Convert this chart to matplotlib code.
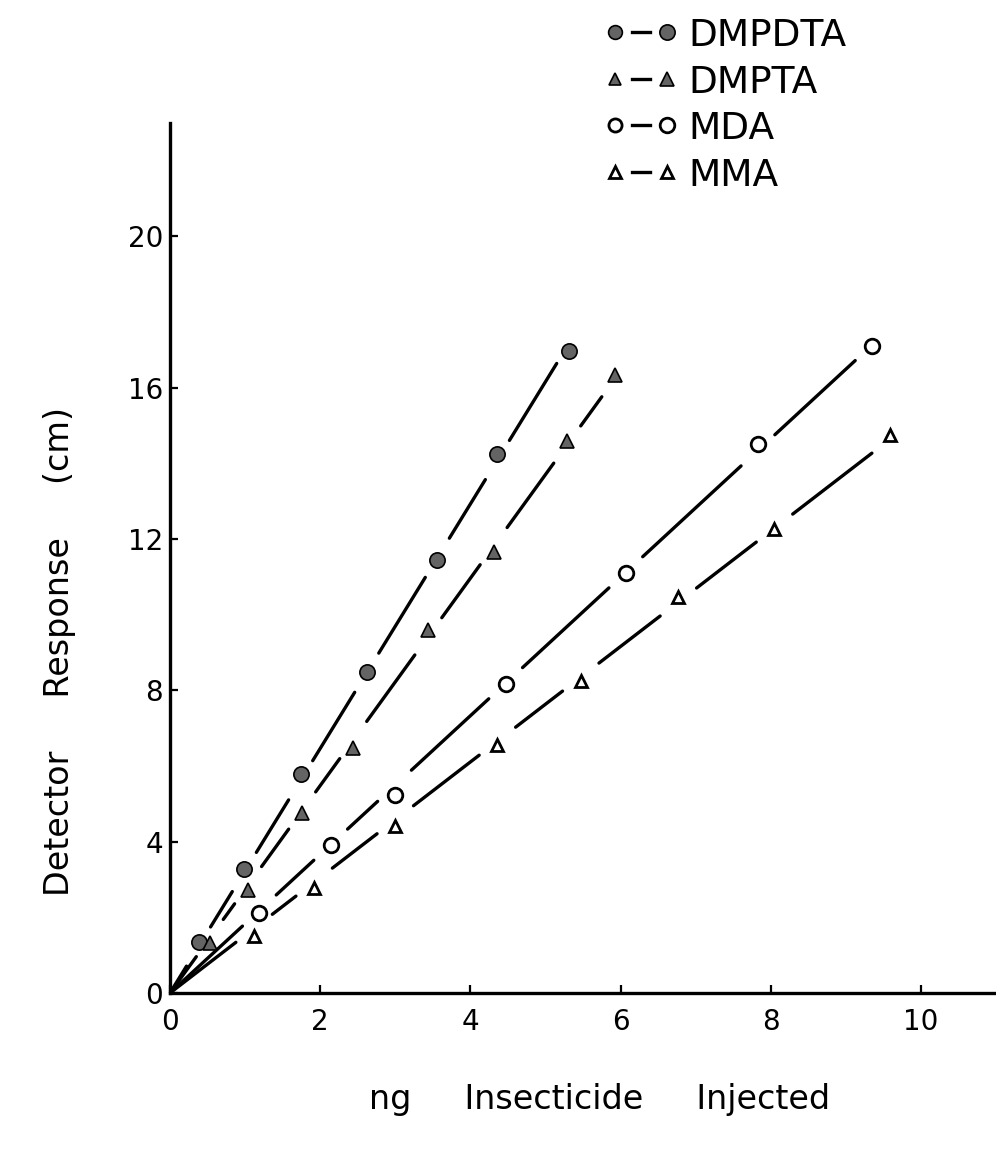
import numpy as np
import matplotlib
matplotlib.use('Agg')
from matplotlib import pyplot as plt

# Response in cm against ng injected, one pair of lists per compound
dmpdta_ng = [0.38, 0.99, 1.74, 2.62, 3.56, 4.36, 5.31]
dmpdta_cm = [1.34, 3.27, 5.79, 8.48, 11.46, 14.26, 16.97]

dmpta_ng = [0.53, 1.04, 1.76, 2.44, 3.44, 4.31, 5.29, 5.93]
dmpta_cm = [1.31, 2.72, 4.75, 6.47, 9.60, 11.65, 14.58, 16.35]

mda_ng = [1.19, 2.14, 2.99, 4.47, 6.07, 7.83, 9.35]
mda_cm = [2.11, 3.90, 5.24, 8.17, 11.10, 14.52, 17.10]

mma_ng = [1.12, 1.92, 3.00, 4.36, 5.47, 6.77, 8.05, 9.59]
mma_cm = [1.51, 2.77, 4.42, 6.56, 8.26, 10.48, 12.27, 14.76]

names = ["DMPDTA", "DMPTA", "MDA", "MMA"]
x_ticks = [0, 2, 4, 6, 8, 10]
y_ticks = [0, 4, 8, 12, 16, 20]

GREY = '#646464'
styles = [
    dict(marker='o', ms=11, mfc=GREY, mec='black', mew=1.2),
    dict(marker='^', ms=9.5, mfc=GREY, mec='black', mew=1.2),
    dict(marker='o', ms=10.5, mfc='white', mec='black', mew=2.0),
    dict(marker='^', ms=9.0, mfc='white', mec='black', mew=2.0),
]
GAP = 23  # pixels left blank on each side of a point


def draw_series(ax, x, y, style):
    x = np.asarray(x, dtype=float)
    y = np.asarray(y, dtype=float)
    # least squares line forced through the origin
    slope = np.dot(x, y) / np.dot(x, x)
    stops = np.concatenate([[0.0], x])
    pts = ax.transData.transform(np.column_stack([stops, slope * stops]))
    inv = ax.transData.inverted()
    for i in range(len(stops) - 1):
        p0, p1 = pts[i], pts[i + 1]
        d = p1 - p0
        length = np.hypot(*d)
        u = d / length
        s0 = 0 if i == 0 else GAP
        if length <= s0 + GAP:
            continue
        seg = inv.transform(np.array([p0 + u * s0, p1 - u * GAP]))
        ax.plot(seg[:, 0], seg[:, 1], color='black', lw=2.4,
                solid_capstyle='round', zorder=2)
    ax.plot(x, y, ls='', zorder=3, **style)


fig = plt.figure(figsize=(9.96, 11.6), dpi=100)
ax = fig.add_axes([170 / 996, 167 / 1160, 826 / 996, 870 / 1160])
ax.set_xlim(0, 11.0)
ax.set_ylim(0, 23.0)

for s in ['top', 'right']:
    ax.spines[s].set_visible(False)
for s in ['left', 'bottom']:
    ax.spines[s].set_linewidth(2.4)

ax.set_xticks(x_ticks)
ax.set_yticks(y_ticks)
ax.tick_params(axis='both', direction='in', length=6, width=1.6,
               labelsize=20)
ax.tick_params(axis='x', pad=11)
ax.tick_params(axis='y', pad=5)

all_x = [dmpdta_ng, dmpta_ng, mda_ng, mma_ng]
all_y = [dmpdta_cm, dmpta_cm, mda_cm, mma_cm]
for xs, ys, st in zip(all_x, all_y, styles):
    draw_series(ax, xs, ys, st)

fig.text(60 / 996, 1 - 651 / 1160, "Detector     Response     (cm)",
         rotation=90, ha='center', va='center', fontsize=24)
fig.text(600 / 996, 1 - 1100 / 1160, "ng     Insecticide     Injected",
         ha='center', va='center', fontsize=24)

# key in the upper right, drawn in pixel space
lax = fig.add_axes([0, 0, 1, 1])
lax.set_xlim(0, 996)
lax.set_ylim(1160, 0)
lax.axis('off')
for i, (name, st) in enumerate(zip(names, styles)):
    row = 32 + i * 46.7
    small = dict(st)
    small['ms'] = st['ms'] * 0.9
    lax.plot([615], [row], ls='', **small)
    lax.plot([667], [row], ls='', **st)
    lax.plot([632, 650], [row, row], color='black', lw=2.4)
    lax.text(688, row + 14, name, fontsize=27, ha='left', va='baseline')

fig.savefig('out.png', dpi=100)
